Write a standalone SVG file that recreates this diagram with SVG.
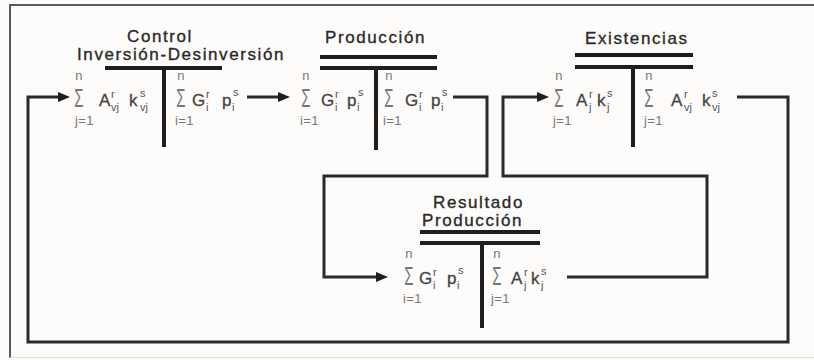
<svg xmlns="http://www.w3.org/2000/svg" width="814" height="360" viewBox="0 0 814 360">
  <style>
    text { font-family: "Liberation Sans", Arial, sans-serif; }
    .ttl { font-size: 17px; letter-spacing: 1.6px; fill: #2a2a2a; stroke: #2a2a2a; stroke-width: 0.35px; }
    .m { font-size: 17px; fill: #444; stroke: #444; stroke-width: 0.3px; }
    .sc { font-size: 11px; fill: #555; }
    .lim { font-size: 13px; fill: #777; letter-spacing: 0.4px; }
    .sig { font-size: 25px; fill: #777; text-anchor: middle; }
    .bar { fill: #1e1e1e; }
    .wire { fill: none; stroke: #2a2a2a; stroke-width: 3; stroke-linejoin: miter; }
    .frame { fill: none; stroke: #5a5a5a; stroke-width: 2; }
  </style>
  <defs>
    <marker id="arrow" markerUnits="userSpaceOnUse" markerWidth="14" markerHeight="12" refX="2" refY="5" orient="auto">
      <path d="M0,0 L12,5 L0,10 z" fill="#1e1e1e"/>
    </marker>
  </defs>

  <rect x="0" y="0" width="814" height="360" fill="#fdfcfa"/>
  <!-- outer frame: top and left edges, faint bottom edge -->
  <path class="frame" d="M814 5 H10 V358"/>
  <path d="M10 357.5 H814" stroke="#e0e0dc" stroke-width="1" fill="none"/>

  <!-- connectors -->
  <g id="connectors">
    <path class="wire" d="M737 97 H788 V342 H28 V97 H60" marker-end="url(#arrow)"/>
    <path class="wire" d="M247 97 H280" marker-end="url(#arrow)"/>
    <path class="wire" d="M453 97 H487 V176 H324 V277 H378" marker-end="url(#arrow)"/>
    <path class="wire" d="M567 277 H707 V176 H503 V97 H539" marker-end="url(#arrow)"/>
  </g>

  <!-- Control Inversión-Desinversión -->
  <g id="control">
    <text class="ttl" x="127" y="42">Control</text>
    <text class="ttl" x="77" y="60">Inversión-Desinversión</text>
    <rect class="bar" x="105" y="66" width="117" height="4"/>
    <rect class="bar" x="162" y="68" width="4" height="79"/>
    <text class="lim" x="79" y="80" text-anchor="middle">n</text>
    <text class="sig" transform="translate(79,107) scale(0.6,1)">Σ</text>
    <text class="lim" x="75" y="125">j=1</text>
    <text class="m" x="99" y="106">A</text>
    <text class="sc" x="111" y="98">r</text>
    <text class="sc" x="111" y="111">vj</text>
    <text class="m" x="129" y="106">k</text>
    <text class="sc" x="140" y="97">s</text>
    <text class="sc" x="140" y="111">vj</text>
    <text class="lim" x="181" y="80" text-anchor="middle">n</text>
    <text class="sig" transform="translate(181,107) scale(0.6,1)">Σ</text>
    <text class="lim" x="175" y="125">i=1</text>
    <text class="m" x="192" y="106">G</text>
    <text class="sc" x="206" y="98">r</text>
    <text class="sc" x="206" y="111">i</text>
    <text class="m" x="222" y="106">p</text>
    <text class="sc" x="233" y="96">s</text>
    <text class="sc" x="232" y="111">i</text>
  </g>

  <!-- Producción -->
  <g id="produccion">
    <text class="ttl" x="325" y="43">Producción</text>
    <rect class="bar" x="320" y="55" width="117" height="4"/>
    <rect class="bar" x="320" y="66" width="117" height="4"/>
    <rect class="bar" x="374" y="68" width="4" height="82"/>
    <text class="lim" x="306" y="80" text-anchor="middle">n</text>
    <text class="sig" transform="translate(306,107) scale(0.6,1)">Σ</text>
    <text class="lim" x="300" y="125">i=1</text>
    <text class="m" x="321" y="106">G</text>
    <text class="sc" x="335" y="98">r</text>
    <text class="sc" x="335" y="111">i</text>
    <text class="m" x="347" y="106">p</text>
    <text class="sc" x="358" y="96">s</text>
    <text class="sc" x="357" y="111">i</text>
    <text class="lim" x="389" y="80" text-anchor="middle">n</text>
    <text class="sig" transform="translate(389,107) scale(0.6,1)">Σ</text>
    <text class="lim" x="383" y="125">i=1</text>
    <text class="m" x="405" y="106">G</text>
    <text class="sc" x="419" y="98">r</text>
    <text class="sc" x="419" y="111">i</text>
    <text class="m" x="431" y="106">p</text>
    <text class="sc" x="442" y="96">s</text>
    <text class="sc" x="441" y="111">i</text>
  </g>

  <!-- Existencias -->
  <g id="existencias">
    <text class="ttl" x="585" y="44">Existencias</text>
    <rect class="bar" x="575" y="53" width="118" height="4"/>
    <rect class="bar" x="575" y="65" width="118" height="4"/>
    <rect class="bar" x="631" y="67" width="4" height="80"/>
    <text class="lim" x="559" y="80" text-anchor="middle">n</text>
    <text class="sig" transform="translate(559,107) scale(0.6,1)">Σ</text>
    <text class="lim" x="553" y="125">j=1</text>
    <text class="m" x="576" y="106">A</text>
    <text class="sc" x="589" y="98">r</text>
    <text class="sc" x="589" y="111">j</text>
    <text class="m" x="597" y="106">k</text>
    <text class="sc" x="607" y="97">s</text>
    <text class="sc" x="607" y="111">j</text>
    <text class="lim" x="649" y="80" text-anchor="middle">n</text>
    <text class="sig" transform="translate(649,107) scale(0.6,1)">Σ</text>
    <text class="lim" x="644" y="125">j=1</text>
    <text class="m" x="671" y="106">A</text>
    <text class="sc" x="684" y="98">r</text>
    <text class="sc" x="684" y="111">vj</text>
    <text class="m" x="702" y="106">k</text>
    <text class="sc" x="712" y="97">s</text>
    <text class="sc" x="712" y="111">vj</text>
  </g>

  <!-- Resultado Producción -->
  <g id="resultado">
    <text class="ttl" x="433" y="208">Resultado</text>
    <text class="ttl" x="422" y="226">Producción</text>
    <rect class="bar" x="420" y="230" width="120" height="4"/>
    <rect class="bar" x="420" y="241" width="120" height="4"/>
    <rect class="bar" x="480" y="243" width="4" height="85"/>
    <text class="lim" x="409" y="258" text-anchor="middle">n</text>
    <text class="sig" transform="translate(409,285) scale(0.6,1)">Σ</text>
    <text class="lim" x="403" y="303">i=1</text>
    <text class="m" x="419" y="284">G</text>
    <text class="sc" x="433" y="276">r</text>
    <text class="sc" x="433" y="289">i</text>
    <text class="m" x="447" y="284">p</text>
    <text class="sc" x="458" y="274">s</text>
    <text class="sc" x="457" y="289">i</text>
    <text class="lim" x="497" y="258" text-anchor="middle">n</text>
    <text class="sig" transform="translate(497,285) scale(0.6,1)">Σ</text>
    <text class="lim" x="491" y="303">j=1</text>
    <text class="m" x="511" y="284">A</text>
    <text class="sc" x="524" y="276">r</text>
    <text class="sc" x="524" y="289">j</text>
    <text class="m" x="531" y="284">k</text>
    <text class="sc" x="541" y="275">s</text>
    <text class="sc" x="541" y="289">j</text>
  </g>
</svg>
